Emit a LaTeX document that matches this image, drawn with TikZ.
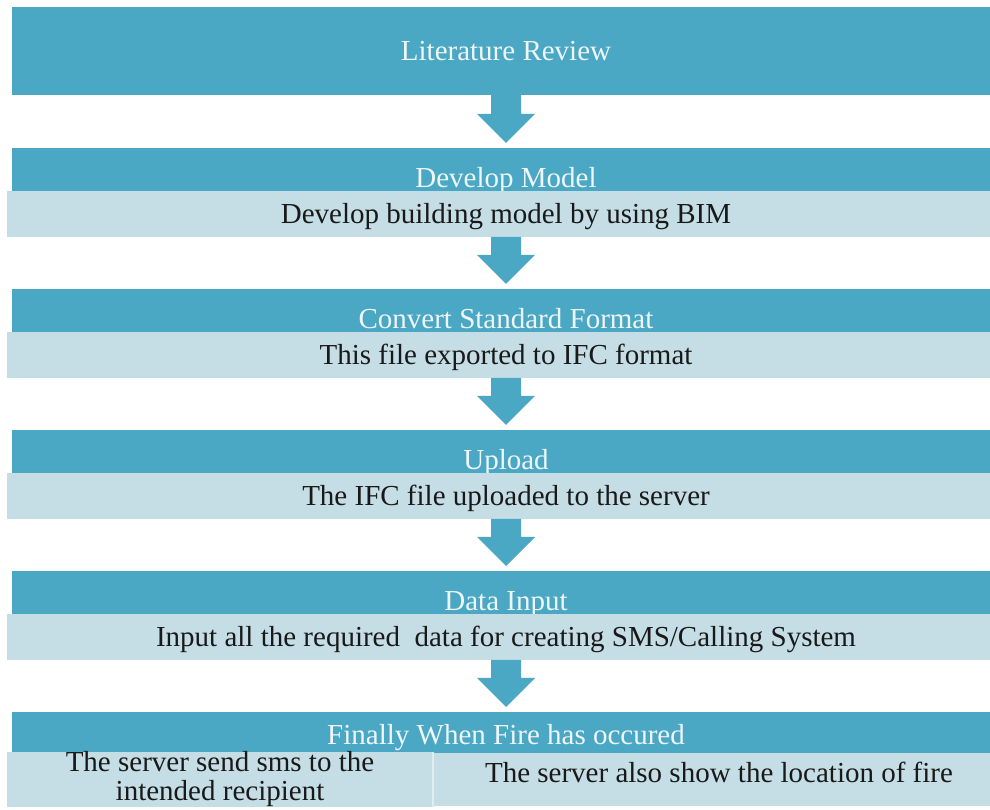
\documentclass[tikz,border=0pt]{standalone}
\usepackage{fontspec}
\setmainfont{Liberation Serif}
\usepackage{tikz}
\usetikzlibrary{calc}

\tikzset{
  stage/.style={fill=stageColor,text=stageText,inner sep=0pt,outer sep=0pt,
    minimum width=988pt,minimum height=43pt,text height=40pt,text depth=3pt,
    font=\fontsize{29}{29}\selectfont},
  detail/.style={fill=detailColor,text=detailText,inner sep=0pt,outer sep=0pt,
    minimum width=998pt,minimum height=46pt,text height=19.2pt,text depth=0pt,
    font=\fontsize{29}{29}\selectfont}
}

\begin{document}
\begin{tikzpicture}[x=1pt,y=1pt]
\definecolor{fillColor}{RGB}{255,255,255}
\path[use as bounding box,fill=fillColor] (0,0) rectangle (990,810);
\begin{scope}
\path[clip] (0,0) rectangle (990,810);
\definecolor{stageColor}{RGB}{74,168,196}
\definecolor{detailColor}{RGB}{197,222,230}
\definecolor{stageText}{RGB}{238,246,249}
\definecolor{detailText}{RGB}{25,25,25}

\node[stage,minimum height=88pt,text height=19.2pt,text depth=0pt] (litreview) at (506,759) {Literature Review};

\node[stage] (develop) at (506,640.5) {Develop Model};
\node[detail] (bim) at (506,596) {Develop building model by using BIM};

\node[stage] (convert) at (506,499.5) {Convert Standard Format};
\node[detail] (ifc) at (506,455) {This file exported to IFC format};

\node[stage] (upload) at (506,358.5) {Upload};
\node[detail] (server) at (506,314) {The IFC file uploaded to the server};

\node[stage] (datainput) at (506,217.5) {Data Input};
\node[detail] (required) at (506,173) {Input all the required\ \ data for creating SMS/Calling System};

\node[stage,minimum height=41pt,text height=33pt,text depth=8pt] (fire) at (506,77.5) {Finally When Fire has occured};
\node[detail,minimum width=426pt,minimum height=53pt,align=center,text height={},text depth={}] (sms) at (220,30.5) {The server send sms to the\\intended recipient};
\node[detail,minimum width=572pt,minimum height=53pt,text depth=13pt] (location) at (719,30.5) {The server also show the location of fire};

\path[draw=white!45!detailColor,line width=1.2pt] (sms.north east) -- (sms.south east);

\path[fill=stageColor] ($(litreview.south)+(-15,0)$) --
	($(litreview.south)+(15,0)$) --
	($(develop.north)+(15,34)$) --
	($(develop.north)+(29,34)$) --
	($(develop.north)+(0,5)$) --
	($(develop.north)+(-29,34)$) --
	($(develop.north)+(-15,34)$) --
	cycle;

\path[fill=stageColor] ($(bim.south)+(-15,0)$) --
	($(bim.south)+(15,0)$) --
	($(convert.north)+(15,34)$) --
	($(convert.north)+(29,34)$) --
	($(convert.north)+(0,5)$) --
	($(convert.north)+(-29,34)$) --
	($(convert.north)+(-15,34)$) --
	cycle;

\path[fill=stageColor] ($(ifc.south)+(-15,0)$) --
	($(ifc.south)+(15,0)$) --
	($(upload.north)+(15,34)$) --
	($(upload.north)+(29,34)$) --
	($(upload.north)+(0,5)$) --
	($(upload.north)+(-29,34)$) --
	($(upload.north)+(-15,34)$) --
	cycle;

\path[fill=stageColor] ($(server.south)+(-15,0)$) --
	($(server.south)+(15,0)$) --
	($(datainput.north)+(15,34)$) --
	($(datainput.north)+(29,34)$) --
	($(datainput.north)+(0,5)$) --
	($(datainput.north)+(-29,34)$) --
	($(datainput.north)+(-15,34)$) --
	cycle;

\path[fill=stageColor] ($(required.south)+(-15,0)$) --
	($(required.south)+(15,0)$) --
	($(fire.north)+(15,34)$) --
	($(fire.north)+(29,34)$) --
	($(fire.north)+(0,5)$) --
	($(fire.north)+(-29,34)$) --
	($(fire.north)+(-15,34)$) --
	cycle;
\end{scope}
\end{tikzpicture}
\end{document}
